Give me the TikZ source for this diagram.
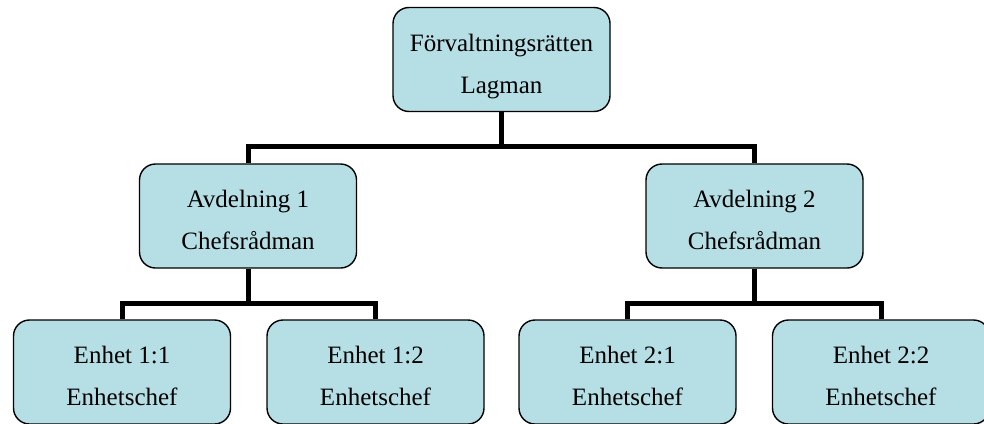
\documentclass[tikz,border=0pt]{standalone}
\usepackage{fontspec}
\setmainfont{Liberation Serif}
\definecolor{boxfill}{RGB}{182,223,229}
\begin{document}
\begin{tikzpicture}[x=1pt,y=-1pt,
    orgbox/.style={draw=black, line width=1.4pt, rounded corners=16pt, fill=boxfill,
      minimum width=217pt, minimum height=104pt, align=center, inner sep=0pt,
      text height=67pt, text depth=0pt,
      font=\fontsize{25}{42}\selectfont},
    link/.style={line width=5pt, draw=black}]
    \useasboundingbox (0,0) rectangle (984,423);
    \node[orgbox] (lagman) at (501.5,59.5) {Förvaltningsrätten\\Lagman};
    \node[orgbox] (avd1) at (248,216) {Avdelning 1\\Chefsrådman};
    \node[orgbox] (avd2) at (754.5,216) {Avdelning 2\\Chefsrådman};
    \node[orgbox] (enh11) at (122,372) {Enhet 1:1\\Enhetschef};
    \node[orgbox] (enh12) at (375.5,372) {Enhet 1:2\\Enhetschef};
    \node[orgbox] (enh21) at (627.5,372) {Enhet 2:1\\Enhetschef};
    \node[orgbox] (enh22) at (881,372) {Enhet 2:2\\Enhetschef};
    % forgreningar
    \coordinate (topbar) at (501.5,146.5);
    \coordinate (bar1) at (248,303);
    \coordinate (bar2) at (754.5,303);
    \draw[link] (lagman.south) -- (topbar);
    \draw[link] (avd1.north) |- (topbar) -| (avd2.north);
    \draw[link] (avd1.south) -- (bar1);
    \draw[link] (enh11.north) |- (bar1) -| (enh12.north);
    \draw[link] (avd2.south) -- (bar2);
    \draw[link] (enh21.north) |- (bar2) -| (enh22.north);
\end{tikzpicture}
\end{document}
